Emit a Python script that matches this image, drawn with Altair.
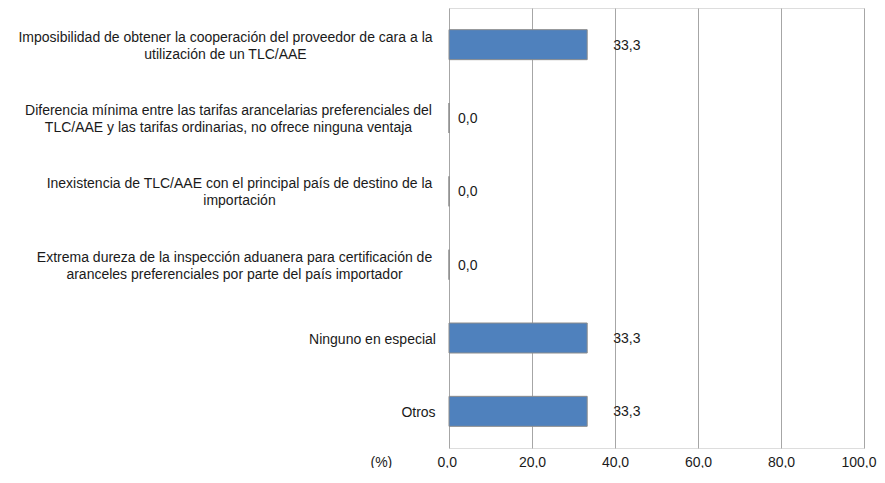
import altair as alt
import pandas as pd

categories = [
    "Imposibilidad de obtener la cooperación del proveedor de cara a la\nutilización de un TLC/AAE",
    "Diferencia mínima entre las tarifas arancelarias preferenciales del\nTLC/AAE y las tarifas ordinarias, no ofrece ninguna ventaja",
    "Inexistencia de TLC/AAE con el principal país de destino de la\nimportación",
    "Extrema dureza de la inspección aduanera para certificación de\naranceles preferenciales por parte del país importador",
    "Ninguno en especial",
    "Otros",
]
values = [33.3, 0.0, 0.0, 0.0, 33.3, 33.3]
x_ticks = [0, 20, 40, 60, 80, 100]

df = pd.DataFrame({"cat": categories, "val": values})

# per-label padding so each multi-line label block ends at the same edge, lines centered
pads = [224, 221, 210, 215, 77, 31]
offs = [-7, -7, -7, -7, 1.5, 1.5]
pad_expr = "[" + ",".join(str(p) for p in pads) + "][round(datum.index*5)]"
off_expr = "[" + ",".join(str(o) for o in offs) + "][round(datum.index*5)]"

FONT = "Liberation Sans"

base = alt.Chart(df).transform_calculate(
    lbl="replace(format(datum.val, '.1f'), '.', ',')"
)

y_enc = alt.Y(
    "cat:N",
    sort=None,
    title=None,
    axis=alt.Axis(
        labelExpr="split(datum.label, '\\n')",
        labelAlign="center",
        labelBaseline="middle",
        labelPadding={"expr": pad_expr},
        labelOffset={"expr": off_expr},
        labelFont=FONT,
        labelFontSize=14,
        labelColor="#1a1a1a",
        labelLineHeight=17,
        labelLimit=0,
        ticks=False,
        tickSize=0,
        domain=False,
        grid=False,
    ),
)

x_enc = alt.X(
    "val:Q",
    scale=alt.Scale(domain=[0, 100], nice=False),
    axis=alt.Axis(
        values=x_ticks,
        labelExpr="replace(format(datum.value, '.1f'), '.', ',')",
        labelFont=FONT,
        labelFontSize=14,
        labelColor="#1a1a1a",
        labelFlush=True,
        labelFlushOffset=12,
        labelPadding=7,
        ticks=False,
        tickSize=0,
        domain=False,
        grid=True,
        gridColor="#A6A6A6",
        gridWidth=1,
        title="(%)",
        titleFont=FONT,
        titleFontSize=14,
        titleFontWeight="normal",
        titleColor="#1a1a1a",
        titleAlign="left",
        titleBaseline="middle",
        titleX=-79,
        titleY=14,
    ),
)

bars = base.mark_bar(size=30, color="#4F81BD", stroke="#8C8C8C", strokeWidth=1).encode(
    x=x_enc, y=y_enc
)

text_pos = base.transform_filter("datum.val > 0").mark_text(
    align="left", baseline="middle", dx=26, dy=1, font=FONT, fontSize=14, color="#1a1a1a"
).encode(x="val:Q", y=alt.Y("cat:N", sort=None), text="lbl:N")

text_zero = base.transform_filter("datum.val <= 0").mark_text(
    align="left", baseline="middle", dx=9, dy=1, font=FONT, fontSize=14, color="#1a1a1a"
).encode(x="val:Q", y=alt.Y("cat:N", sort=None), text="lbl:N")

chart = (
    alt.layer(bars, text_pos, text_zero)
    .properties(
        width=415,
        height=440,
        autosize=alt.AutoSizeParams(type="none"),
        padding={"left": 441, "top": 0, "right": 13, "bottom": 20},
    )
    .configure_view(stroke="#A6A6A6", strokeWidth=1)
    .configure(background="white")
)

chart.save("out.html", embed_options={"renderer": "svg", "actions": False})
